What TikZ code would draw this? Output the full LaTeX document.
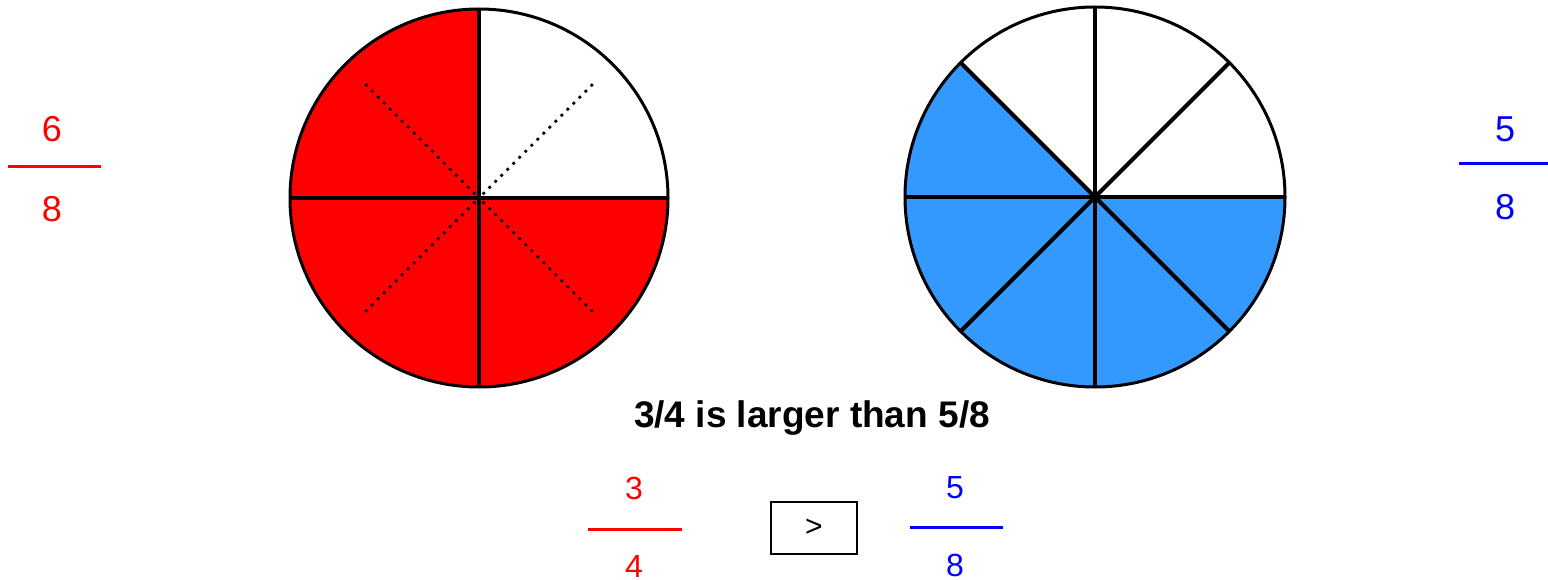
\documentclass[tikz,border=0pt]{standalone}
\usepackage{fontspec}
\setmainfont{Liberation Sans}
\definecolor{fracred}{RGB}{255,0,0}
\definecolor{fracblue}{RGB}{0,0,255}
\definecolor{pieblue}{RGB}{51,153,255}
\begin{document}
\begin{tikzpicture}[x=1pt,y=-1pt,
  outline/.style={line width=3pt},
  radial/.style={line width=4pt},
  dotline/.style={line width=2.8pt, dash pattern=on 2.8pt off 5.7pt},
  bignum/.style={font=\fontsize{36}{42}\selectfont, inner sep=0pt},
  smallnum/.style={font=\fontsize{32}{38}\selectfont, inner sep=0pt},
  fracbar/.style={line width=3pt}]
\useasboundingbox (0,0) rectangle (1548,580);
% left pie (6/8 = 3/4)
\coordinate (c1) at (479,198);
\fill[fracred] (c1) circle (189);
\fill[white] (c1) -- ++(189,0) arc[start angle=0, end angle=-90, radius=189] -- cycle;
\draw[dotline] (c1) ++(-45:161) -- (c1);
\draw[dotline] (c1) ++(-135:161) -- (c1);
\draw[dotline] (c1) ++(45:161) -- (c1);
\draw[dotline] (c1) ++(135:161) -- (c1);
\draw[radial] (c1) ++(0:189) -- ++(180:378);
\draw[radial] (c1) ++(90:189) -- ++(270:378);
\draw[outline] (c1) circle (189);
% right pie (5/8)
\coordinate (c2) at (1095,197);
\fill[pieblue] (c2) circle (190);
\fill[white] (c2) -- ++(190,0) arc[start angle=0, end angle=-135, radius=190] -- cycle;
\foreach \a in {0,45,90,135}{
  \draw[radial] (c2) ++(\a:190) -- ++(\a+180:380);
}
\draw[outline] (c2) circle (190);
% side fractions
\node[bignum, text=fracred] (ln) at (52,129) {6};
\coordinate (lb1) at (8,167);
\coordinate (lb2) at (101,167);
\draw[fracbar, fracred] (lb1) -- (lb2);
\node[bignum, text=fracred] (ld) at (52,209) {8};
\node[bignum, text=fracblue] (rn) at (1505,129) {5};
\coordinate (rb1) at (1459,164);
\coordinate (rb2) at (1548,164);
\draw[fracbar, fracblue] (rb1) -- (rb2);
\node[bignum, text=fracblue] (rd) at (1505,207) {8};
% statement
\node[font=\fontsize{37}{44}\selectfont\bfseries, inner sep=0pt, anchor=base] (stmt) at (812,427) {3/4 is larger than 5/8};
% bottom comparison
\node[smallnum, text=fracred] (bn1) at (634,488) {3};
\coordinate (bb1a) at (588,529);
\coordinate (bb1b) at (682,529);
\draw[fracbar, fracred] (bb1a) -- (bb1b);
\node[smallnum, text=fracred] (bd1) at (634,566) {4};
\node[draw, line width=1.5pt, minimum width=86pt, minimum height=52pt, inner sep=0pt,
      font=\fontsize{30}{34}\selectfont] (cmp) at (814,528) {>};
\node[smallnum, text=fracblue] (bn2) at (955,488) {5};
\coordinate (bb2a) at (910,527);
\coordinate (bb2b) at (1003,527);
\draw[fracbar, fracblue] (bb2a) -- (bb2b);
\node[smallnum, text=fracblue] (bd2) at (955,565) {8};
\end{tikzpicture}
\end{document}
